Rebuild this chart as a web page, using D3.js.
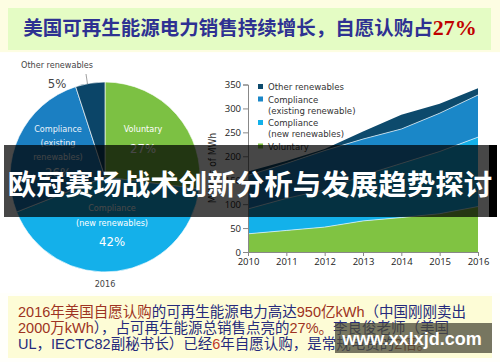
<!DOCTYPE html>
<html>
<head>
<meta charset="utf-8">
<script src="https://cdn.jsdelivr.net/npm/d3@7"></script>
<style>
  body { margin: 0; background: #fffffb; }
  svg { display: block; }
</style>
</head>
<body>
<div id="chart"></div>
<script>
// pie shares, 2016
var pieNames = ["Voluntary", "Compliance new", "Compliance existing", "Other renewables"]
var pieShares = [27, 42, 26, 5]
var pieColors = ["#7cc143", "#14b0ea", "#1b7fc2", "#0b4568"]

// sales by year, millions of MWh
var years = [2010, 2011, 2012, 2013, 2014, 2015, 2016]
var voluntary = [38, 45, 52, 65, 72, 80, 95]
var complianceNew = [52, 67, 78, 95, 113, 130, 145]
var complianceExisting = [70, 73, 82, 76, 72, 80, 88]
var otherRenewables = [8, 5, 3, 16, 30, 20, 14]
var yTicks = [0, 50, 100, 150, 200, 250, 300, 350]

var areaKeys = ["voluntary", "newC", "existing", "other"]
var areaColors = {voluntary: "#80c342", newC: "#13b1ea", existing: "#1a87c8", other: "#0d4a6c"}
var legendRows = [
  {key: "other", lines: ["Other renewables"]},
  {key: "existing", lines: ["Compliance", "(existing renewable)"]},
  {key: "newC", lines: ["Compliance", "(new renewables)"]},
  {key: "voluntary", lines: ["Voluntary"]}
]

var W = 500, H = 362
var svg = d3.select("#chart").append("svg")
    .attr("width", W)
    .attr("height", H)

// backgrounds
svg.append("rect").attr("x", 0).attr("y", 0).attr("width", W).attr("height", 52).attr("fill", "#fdfde2")
svg.append("rect").attr("x", 8).attr("y", 8).attr("width", 483).attr("height", 42).attr("fill", "#e4fcc4")
svg.append("rect").attr("x", 0).attr("y", 53).attr("width", W).attr("height", 240).attr("fill", "#ffffff")
svg.append("rect").attr("x", 8).attr("y", 296).attr("width", 484).attr("height", 62).attr("fill", "#fdfcd6")

// title
var title = svg.append("text")
    .attr("x", 250)
    .attr("y", 35)
    .attr("text-anchor", "middle")
    .style("font-family", "'Noto Sans CJK SC', sans-serif")
    .style("font-weight", "bold")
    .style("font-size", "19.5px")
title.append("tspan").attr("fill", "#2e3192").text("美国可再生能源电力销售持续增长，自愿认购占")
title.append("tspan").attr("fill", "#c00000")
    .style("font-family", "'Liberation Serif', serif").style("font-size", "22px").text("27%")

// ---- pie ----
var cx = 105, cy = 177, R = 95
var pieG = svg.append("g").attr("transform", "translate(" + cx + "," + cy + ")")
var pie = d3.pie().sort(null).value(function(d) { return d })
var arc = d3.arc().innerRadius(0).outerRadius(R)
pieG.selectAll("path")
  .data(pie(pieShares))
  .enter().append("path")
    .attr("d", arc)
    .attr("fill", function(d, i) { return pieColors[i] })
    .attr("stroke", "#ffffff")
    .attr("stroke-opacity", 0.8)
    .attr("stroke-width", 0.8)

var pieLabels = [
  {x: 143, y: 129, t: "Voluntary", big: false, c: "#ffffff"},
  {x: 143, y: 148, t: "27%", big: true, c: "#ffffff"},
  {x: 112, y: 208, t: "Compliance", big: false, c: "#ffffff"},
  {x: 112, y: 223, t: "(new renewables)", big: false, c: "#ffffff"},
  {x: 112, y: 241, t: "42%", big: true, c: "#ffffff"},
  {x: 58, y: 129, t: "Compliance", big: false, c: "#e8f2fa"},
  {x: 58, y: 143, t: "(existing", big: false, c: "#e8f2fa"},
  {x: 58, y: 157, t: "renewables)", big: false, c: "#e8f2fa"},
  {x: 58, y: 172, t: "26%", big: true, c: "#e8f2fa"},
  {x: 57, y: 65, t: "Other renewables", big: false, c: "#444444"},
  {x: 57, y: 83, t: "5%", big: true, c: "#444444"},
  {x: 105, y: 284, t: "2016", big: false, c: "#444444"}
]
svg.selectAll("text.pl")
  .data(pieLabels)
  .enter().append("text")
    .attr("class", "pl")
    .attr("x", function(d) { return d.x })
    .attr("y", function(d) { return d.y })
    .attr("dy", "0.35em")
    .attr("text-anchor", "middle")
    .attr("fill", function(d) { return d.c })
    .style("font-family", "'DejaVu Sans Condensed', 'DejaVu Sans', sans-serif")
    .style("font-stretch", "condensed")
    .style("font-size", function(d) { return d.big ? "13px" : "9px" })
    .text(function(d) { return d.t })

svg.append("line")
    .attr("x1", 86).attr("y1", 74).attr("x2", 87.5).attr("y2", 84)
    .attr("stroke", "#777").attr("stroke-width", 0.7)

// ---- stacked area ----
var rows = years.map(function(y, i) {
  return {year: y, voluntary: voluntary[i], newC: complianceNew[i], existing: complianceExisting[i], other: otherRenewables[i]}
})
var series = d3.stack().keys(areaKeys)(rows)

var x = d3.scaleLinear().domain([2010, 2016]).range([248, 478])
var y = d3.scaleLinear().domain([0, 350]).range([252, 84.5])

var area = d3.area()
    .x(function(d) { return x(d.data.year) })
    .y0(function(d) { return y(d[0]) })
    .y1(function(d) { return y(d[1]) })

svg.selectAll("path.layer")
  .data(series)
  .enter().append("path")
    .attr("class", "layer")
    .attr("d", area)
    .attr("fill", function(d) { return areaColors[d.key] })

var topLine = d3.line()
    .x(function(d) { return x(d.data.year) })
    .y(function(d) { return y(d[1]) })
svg.selectAll("path.edge")
  .data(series.slice(0, 3))
  .enter().append("path")
    .attr("class", "edge")
    .attr("d", topLine)
    .attr("fill", "none")
    .attr("stroke", "#e8f6ff")
    .attr("stroke-opacity", 0.8)
    .attr("stroke-width", 0.9)

var xAxis = svg.append("g")
    .attr("transform", "translate(0," + y(0) + ")")
    .call(d3.axisBottom(x).tickValues(years).tickFormat(d3.format("d")).tickSize(4).tickPadding(2))
var yAxis = svg.append("g")
    .attr("transform", "translate(" + x(2010) + ",0)")
    .call(d3.axisLeft(y).tickValues(yTicks).tickSize(5).tickPadding(2))
;[xAxis, yAxis].forEach(function(g) {
  g.select(".domain").attr("stroke", "#888")
  g.selectAll(".tick line").attr("stroke", "#888")
  g.selectAll("text")
    .attr("fill", "#222")
    .style("font-family", "'Open Sans', sans-serif")
    .style("font-size", "9.5px")
})

svg.append("text")
    .attr("transform", "translate(216,168) rotate(-90)")
    .attr("text-anchor", "middle")
    .attr("fill", "#333")
    .style("font-family", "'DejaVu Sans Condensed', sans-serif")
    .style("font-size", "10px")
    .text("Millions of MWh")

// legend
var ly = 87
legendRows.forEach(function(r) {
  svg.append("rect")
      .attr("x", 258).attr("y", ly - 3)
      .attr("width", 5).attr("height", 5)
      .attr("fill", areaColors[r.key])
  r.lines.forEach(function(line, k) {
    svg.append("text")
        .attr("x", 268).attr("y", ly + k * 11)
        .attr("dy", "0.35em")
        .attr("fill", "#333")
        .style("font-family", "'DejaVu Sans Condensed', sans-serif")
        .style("font-size", "9.5px")
        .text(line)
  })
  ly += r.lines.length * 11 + 1.5
})

// ---- bottom caption ----
var red = "#9e3322", navy = "#252a7c"
var caption = [
  [["2016年美国自愿认购", red], ["的可再生能源电力高达", navy], ["950亿kWh", red], ["（中国刚刚卖出", navy]],
  [["2000万kWh", red], ["），占可再生能源总销售点亮的", navy], ["27%。", red], ["李良俊老师（美国", navy]],
  [["UL，IECTC82副秘书长）已经", navy], ["6", "#c0392b"], ["年自愿认购，是常规电费的", navy], ["2倍。", red]]
]
caption.forEach(function(line, i) {
  var t = svg.append("text")
      .attr("x", 18)
      .attr("y", 317 + i * 16)
      .style("font-family", "'Liberation Sans', 'Noto Sans CJK SC', sans-serif")
      .style("font-size", "14.5px")
  line.forEach(function(seg) {
    t.append("tspan").attr("fill", seg[1]).text(seg[0])
  })
})

// ---- overlay banner ----
svg.append("rect")
    .attr("x", 4).attr("y", 145).attr("width", 493).attr("height", 72)
    .attr("fill", "#000").attr("fill-opacity", 0.72)
svg.append("rect")
    .attr("x", 489).attr("y", 145).attr("width", 8).attr("height", 72)
    .attr("fill", "#000")
svg.append("text")
    .attr("x", 250).attr("y", 195)
    .attr("text-anchor", "middle")
    .attr("fill", "#ffffff")
    .style("font-family", "'Noto Sans CJK SC', sans-serif")
    .style("font-weight", "bold")
    .style("font-size", "28.5px")
    .text("欧冠赛场战术创新分析与发展趋势探讨")

// watermark
svg.append("rect")
    .attr("x", 335).attr("y", 323).attr("width", 157).attr("height", 30)
    .attr("fill", "#4a4a38").attr("fill-opacity", 0.75)
svg.append("text")
    .attr("x", 412).attr("y", 345)
    .attr("text-anchor", "middle")
    .attr("fill", "#ffffff")
    .style("font-family", "'Liberation Sans', sans-serif")
    .style("font-weight", "bold")
    .style("font-size", "18px")
    .text("www.xxlxjd.com")
</script>
</body>
</html>
